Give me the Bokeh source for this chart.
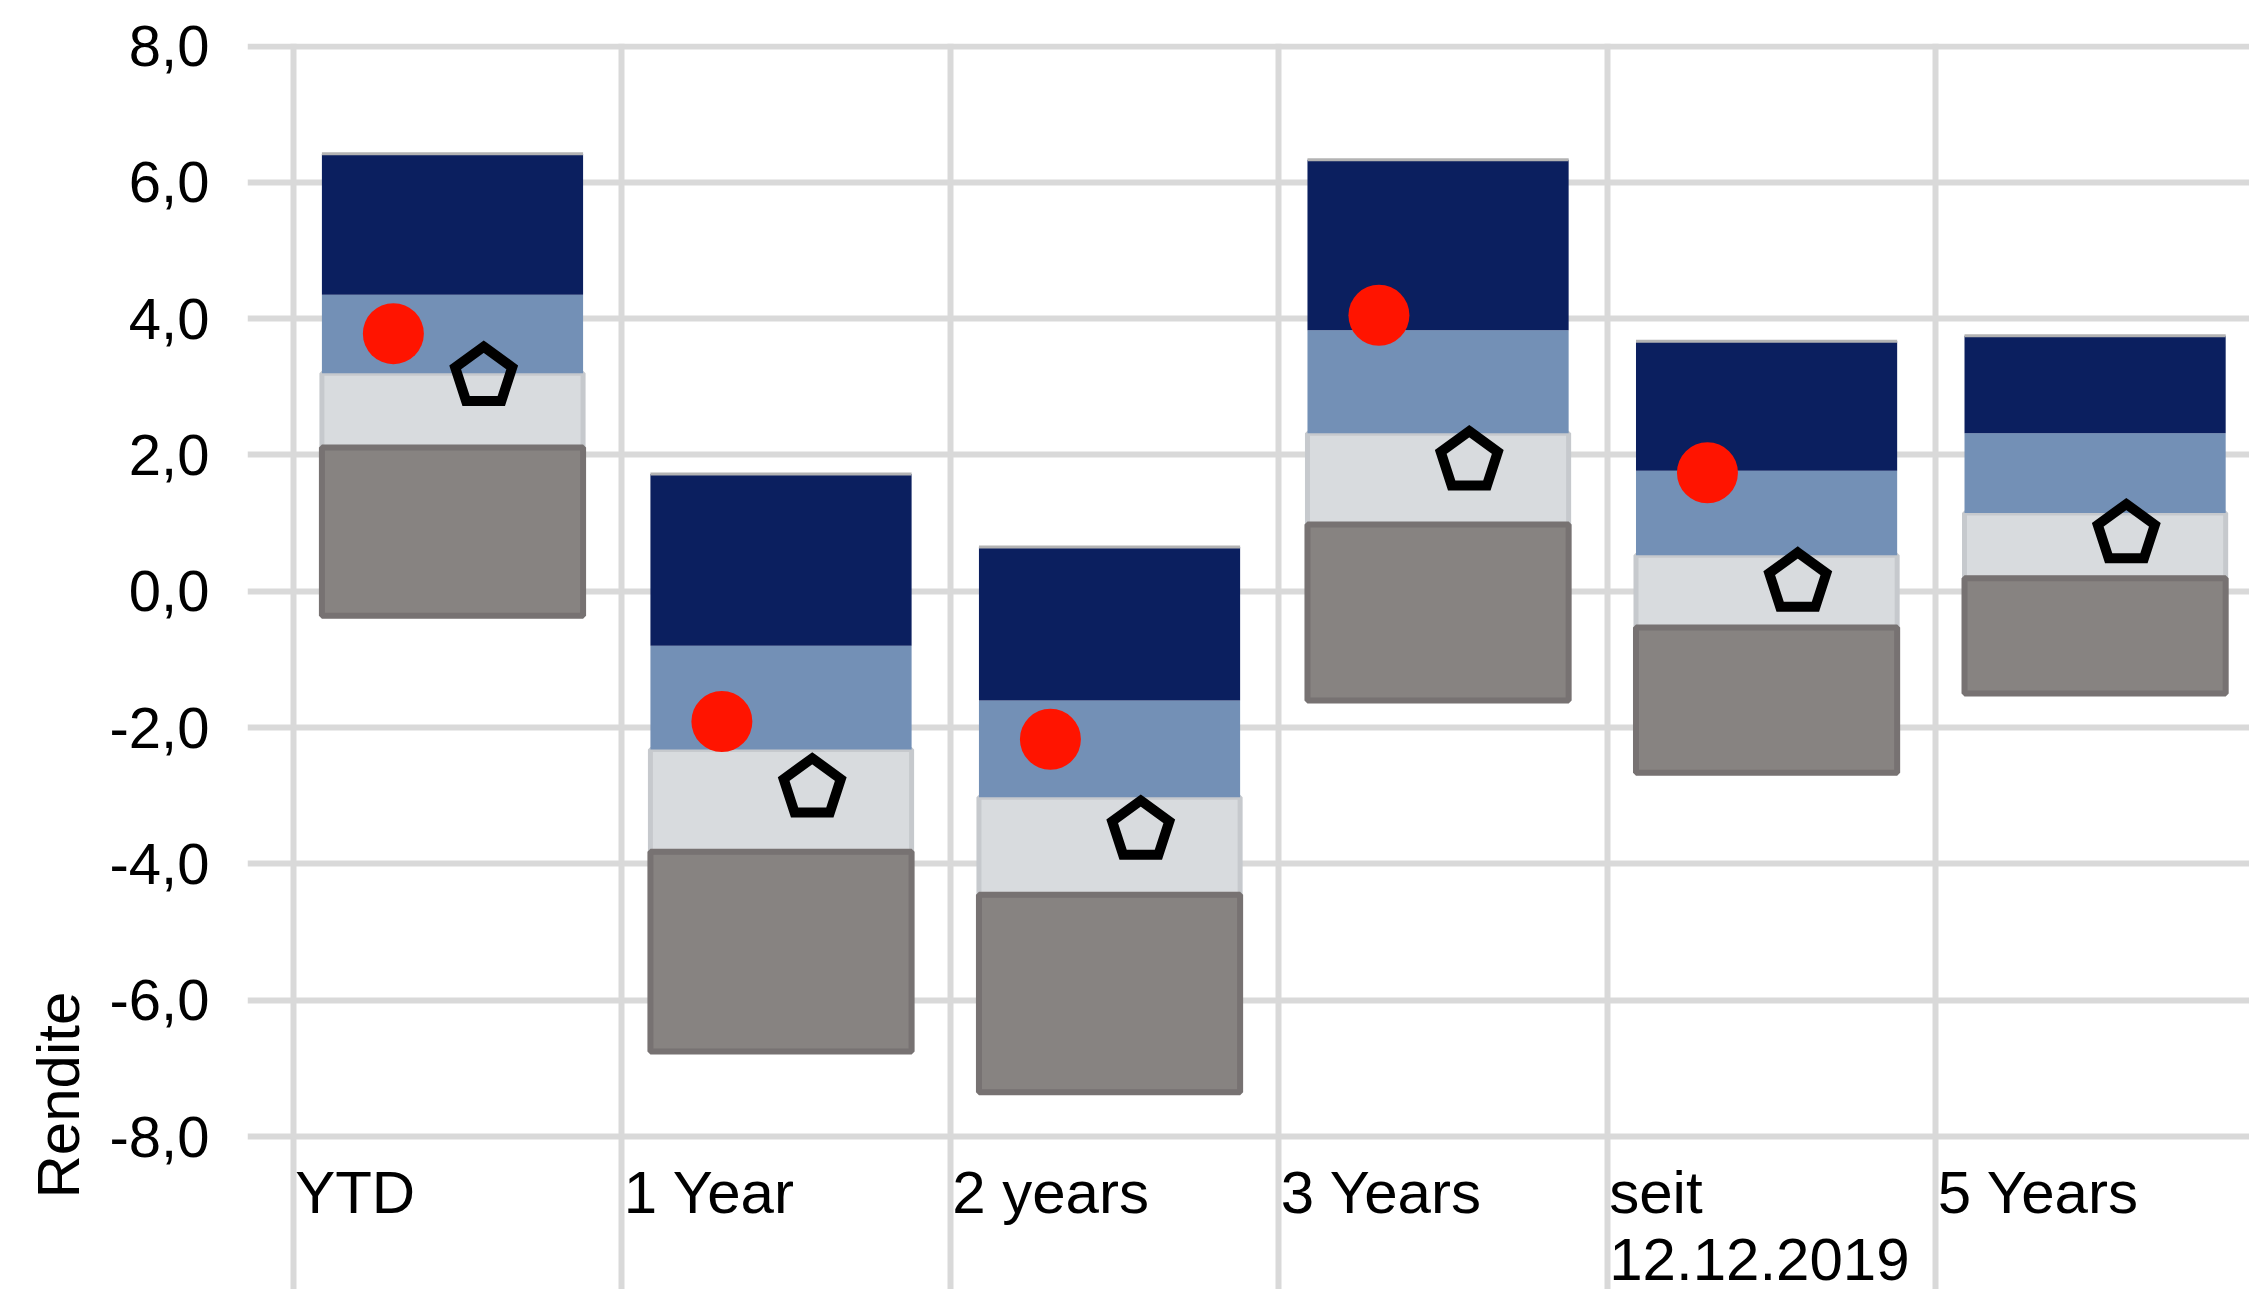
import numpy as np
from bokeh.plotting import figure
from bokeh.core.properties import value
from bokeh.models import ColumnDataSource, Range1d, LinearAxis, FixedTicker, Grid, Title
from bokeh.embed import file_html
from bokeh.resources import INLINE

# Return periods and peer-group distribution (in %)
categories = ["YTD", "1 Year", "2 years", "3 Years", "seit\n12.12.2019", "5 Years"]
lowest    = [-0.36, -6.75, -7.35, -1.60, -2.66, -1.50]
quartile1 = [ 2.11, -3.82, -4.45,  0.98, -0.53,  0.19]
median    = [ 3.20, -2.32, -3.02,  2.32,  0.53,  1.15]
quartile3 = [ 4.35, -0.80, -1.60,  3.83,  1.77,  2.32]
highest   = [ 6.42,  1.72,  0.65,  6.33,  3.67,  3.75]
fund      = [ 3.78, -1.91, -2.17,  4.05,  1.74,  np.nan]
peer_avg  = [ 3.15, -2.89, -3.51,  1.91,  0.13,  0.84]

y_ticks = [-8, -6, -4, -2, 0, 2, 4, 6, 8]
y_tick_labels = ["-8,0", "-6,0", "-4,0", "-2,0", "0,0", "2,0", "4,0", "6,0", "8,0"]

FONT = "Liberation Sans"
NAVY = "#0B1F5F"
LIGHT_BLUE = "#7390B6"
LIGHT_GREY = "#D8DBDE"
GREY = "#878381"
GRID = "#D9D9D9"

X_START, X_END = -0.139, 5.955
Y_START, Y_END = -10.243, 8.037

idx = np.arange(len(categories))
bar_x = idx + 0.485
bar_w = 0.795
src = ColumnDataSource(dict(
    x=bar_x, left=bar_x - bar_w / 2, right=bar_x + bar_w / 2,
    low=lowest, q1=quartile1, med=median, q3=quartile3, high=highest,
    fund_x=idx + 0.305, fund=fund, peer_x=idx + 0.58, peer=peer_avg,
))
lab_src = ColumnDataSource(dict(x=idx, y=[y_ticks[0]] * len(categories), text=categories))

p = figure(width=2249, height=1289, x_range=Range1d(X_START, X_END), y_range=Range1d(Y_START, Y_END),
           x_axis_location=None, y_axis_location=None, toolbar_location=None, output_backend="svg",
           min_border_left=247, min_border_top=43, min_border_right=0, min_border_bottom=0)
p.title.visible = False
p.outline_line_color = None
p.background_fill_color = "white"
p.border_fill_color = "white"

# grid: column separators and value lines
p.center = [r for r in p.center if not isinstance(r, Grid)]
p.add_layout(Grid(dimension=0, ticker=FixedTicker(ticks=list(idx)),
                  grid_line_color=GRID, grid_line_width=6))
p.add_layout(Grid(dimension=1, ticker=FixedTicker(ticks=y_ticks),
                  grid_line_color=GRID, grid_line_width=6))

# stacked floating bands
p.vbar(x="x", width=bar_w, bottom="q1", top="med", source=src,
       fill_color=LIGHT_GREY, line_color="#C6C9CD", line_width=5)
p.vbar(x="x", width=bar_w, bottom="low", top="q1", source=src,
       fill_color=GREY, line_color="#777272", line_width=6)
p.vbar(x="x", width=bar_w, bottom="med", top="q3", source=src,
       fill_color=LIGHT_BLUE, line_color=None)
p.vbar(x="x", width=bar_w, bottom="q3", top="high", source=src,
       fill_color=NAVY, line_color=None)
p.segment(x0="left", y0="high", x1="right", y1="high", source=src,
          line_color="#B3B3B3", line_width=3)

# fund return and peer average
p.scatter(x="fund_x", y="fund", source=src, marker="circle", size=61,
          fill_color="#FF1400", line_color=None)
p.ngon(x="peer_x", y="peer", source=src, radius=30, radius_units="screen", n=5,
       angle=0, fill_color=None, line_color="black", line_width=10, line_join="miter")

# period labels, left-aligned at each column separator
p.text(x="x", y="y", text="text", source=lab_src, text_font=value(FONT),
       text_font_size=value("60px"), text_align="left", text_baseline="top",
       x_offset=2, y_offset=22, text_color="black", text_line_height=1.0)

y_axis = LinearAxis(ticker=FixedTicker(ticks=y_ticks),
                    major_label_overrides=dict(zip(y_ticks, y_tick_labels)),
                    axis_line_color=None, major_tick_line_color=None, minor_tick_line_color=None,
                    major_tick_in=0, major_tick_out=0, major_label_standoff=38,
                    major_label_text_font=FONT, major_label_text_font_size="58px",
                    major_label_text_color="black")
p.add_layout(y_axis, "left")

p.add_layout(Title(text="Rendite", align="left", offset=91, standoff=30,
                   text_font=FONT, text_font_size="60px", text_font_style="normal",
                   text_color="black"), "left")

open("out.html", "w").write(file_html(p, INLINE))
